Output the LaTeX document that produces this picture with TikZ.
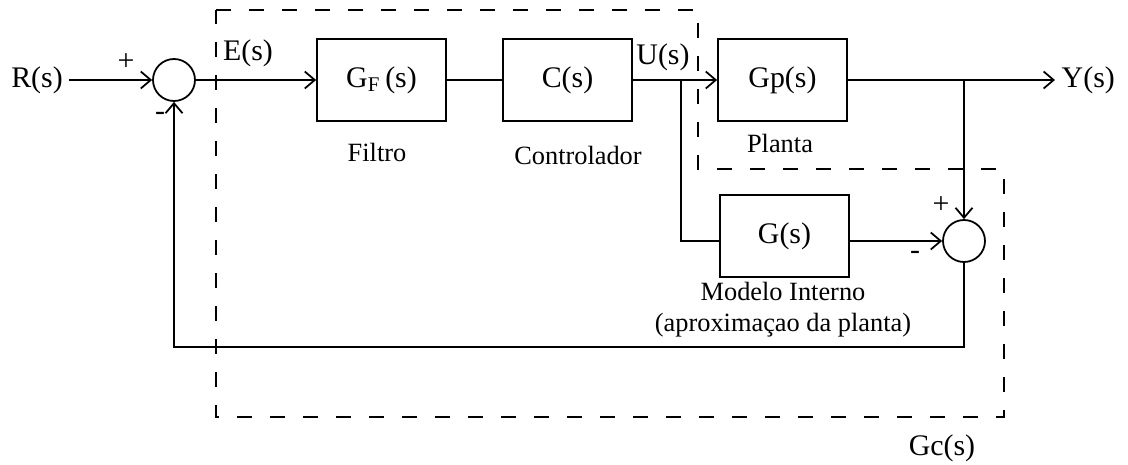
\documentclass[tikz,border=0pt]{standalone}
\usepackage{fontspec}
\setmainfont{Liberation Serif}
\usetikzlibrary{positioning,arrows.meta,calc}

\begin{document}
\begin{tikzpicture}[
    block/.style={rectangle, draw, minimum width=2.58cm, minimum height=1.64cm, font=\fontsize{17}{20}\selectfont},
    sumnode/.style={circle, draw, minimum size=0.84cm, inner sep=0pt},
    signal/.style={font=\fontsize{17}{20}\selectfont},
    caption/.style={font=\fontsize{15}{18}\selectfont, align=center},
    sign/.style={font=\fontsize{17}{20}\selectfont, inner sep=0pt},
    gcbox/.style={dashed, dash pattern=on 0.3cm off 0.36cm},
    line width=1pt,
    >={Straight Barb[length=0.2cm,width=0.34cm]}
]
\useasboundingbox (0,0) rectangle (22.56,-9.3);

% entrada e somador
\node[signal] (r) at (0.74,-1.6) {R(s)};
\node[sumnode] (sum1) at (3.48,-1.6) {};
\node[sign] (p1) at (2.52,-1.24) {+};
\node[sign] (m1) at (3.2,-2.32) {-};

% blocos
\node[block] (gf) at (7.63,-1.6) {G\textsubscript{F}\,(s)};
\node[block] (c) at (11.35,-1.6) {C(s)};
\node[block] (gp) at (15.65,-1.6) {Gp(s)};
\node[block] (g) at (15.69,-4.72) {G(s)};
\node[sumnode] (sum2) at (19.28,-4.82) {};
\node[sign] (p2) at (18.82,-4.1) {+};
\node[sign] (m2) at (18.3,-5.1) {-};

% sinais
\node[signal] (e) at (4.96,-1.06) {E(s)};
\node[signal] (u) at (13.26,-1.14) {U(s)};
\node[signal, anchor=west] (y) at (21.1,-1.6) {Y(s)};
\node[signal] (gc) at (18.84,-8.96) {Gc(s)};

% legendas
\node[caption] (filtro) at (7.54,-3.04) {Filtro};
\node[caption] (ctrl) at (11.56,-3.1) {Controlador};
\node[caption] (planta) at (15.6,-2.86) {Planta};
\node[caption] (modelo) at (15.66,-6.19) {Modelo Interno\\(aproximaçao da planta)};

% pontos de ramificacao
\coordinate (bu) at (13.62,-1.6);
\coordinate (by) at (19.28,-1.6);
\coordinate (fb) at (19.28,-6.94);

% ligacoes
\draw[->] (r.east) -- (sum1.west);
\draw[->] (sum1.east) -- (gf.west);
\draw (gf.east) -- (c.west);
\draw[->] (c.east) -- (gp.west);
\draw[->] (gp.east) -- (y.west);
\draw (bu) |- ([yshift=-0.1cm]g.west);
\draw[->] ([yshift=-0.1cm]g.east) -- (sum2.west);
\draw[->] (by) -- (sum2.north);
\draw[->] (sum2.south) -- (fb) -| (sum1.south);

% controlador equivalente Gc(s)
\draw[gcbox] (4.32,-0.2) -- (13.96,-0.2) -- (13.96,-3.38) -- (20.08,-3.38)
    -- (20.08,-8.34) -- (4.32,-8.34) -- cycle;

\end{tikzpicture}
\end{document}
